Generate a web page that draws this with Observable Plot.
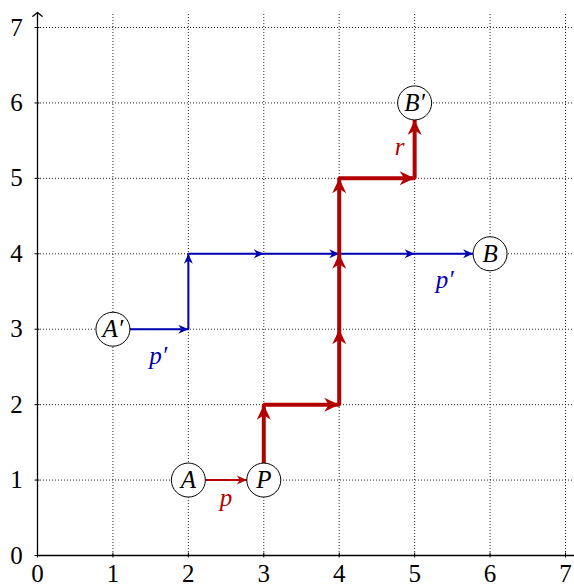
<!DOCTYPE html>
<html><head><meta charset="utf-8">
<script src="https://cdn.jsdelivr.net/npm/d3@7"></script>
<script src="https://cdn.jsdelivr.net/npm/@observablehq/plot@0.6"></script>
<style>
body{margin:0;background:#fff}
.serif text{font-family:"Liberation Serif", serif !important;}
</style>
</head><body><div id="chart"></div>
<script>
// ---- data ----
const xTicks = [0, 1, 2, 3, 4, 5, 6, 7];
const yTicks = [0, 1, 2, 3, 4, 5, 6, 7];
const gridX = [1, 2, 3, 4, 5, 6, 7];
const gridY = [1, 2, 3, 4, 5, 6, 7];
const axisEnd = [7.2];          // axes run a bit past 7
const gridEndX = [7.1];
const gridEndY = [7.2];

const nodes = [
  {x: 2, y: 1, label: "A"},
  {x: 3, y: 1, label: "P"},
  {x: 1, y: 3, label: "A′"},
  {x: 6, y: 4, label: "B"},
  {x: 5, y: 6, label: "B′"}
];

const redPath  = [[3, 1], [3, 2], [4, 2], [4, 5], [5, 5], [5, 6]];
const bluePath = [[1, 3], [2, 3], [2, 4], [6, 4]];
const pPath    = [[2, 1], [3, 1]];

// arrow heads: angle 0 = up, 90 = right
const redHeads = [
  {x: 3, y: 2, angle: 0}, {x: 4, y: 2, angle: 90}, {x: 4, y: 3, angle: 0},
  {x: 4, y: 4, angle: 0}, {x: 4, y: 5, angle: 0}, {x: 5, y: 5, angle: 90}
];
const redEdgeHeads = [{x: 5, y: 6, angle: 0}];
const blueHeads = [
  {x: 2, y: 3, angle: 90}, {x: 2, y: 4, angle: 0}, {x: 3, y: 4, angle: 90},
  {x: 4, y: 4, angle: 90}, {x: 5, y: 4, angle: 90}
];
const blueEdgeHeads = [{x: 6, y: 4, angle: 90}];
const pEdgeHeads = [{x: 3, y: 1, angle: 90}];

const redLabels  = [{x: 2.5, y: 0.76, text: "p"}, {x: 4.8, y: 5.41, text: "r"}];
const blueLabels = [{x: 1.6, y: 2.65, text: "p′"}, {x: 5.4, y: 3.65, text: "p′"}];

// ---- style ----
const RED = "#b30000", BLUE = "#0000b3";
const NODE_R = 17;
const serif = "Liberation Serif";

function stealth(L, hw, notch, offset) {
  return {
    draw(ctx) {
      const o = offset || 0;
      ctx.moveTo(0, o);
      ctx.lineTo(hw, o + L);
      ctx.lineTo(0, o + L - notch);
      ctx.lineTo(-hw, o + L);
      ctx.closePath();
    }
  };
}
const bigHead = stealth(15, 7, 4.5, 0);
const bigEdgeHead = stealth(15, 7, 4.5, NODE_R);
const smallHead = stealth(10, 4.5, 3, 0);
const smallEdgeHead = stealth(10, 4.5, 3, NODE_R);

const px = d => d[0], py = d => d[1];

const chart = Plot.plot({
  width: 574,
  height: 586,
  marginLeft: 37,
  marginRight: 9,
  marginTop: 27,
  marginBottom: 31,
  style: {background: "white"},
  className: "serif",
  x: {domain: [0, 7], axis: null},
  y: {domain: [0, 7], axis: null},
  marks: [
    // grid
    Plot.ruleX(gridX, {x: d => d, y1: 0, y2: gridEndY[0], stroke: "#000", strokeWidth: 1, strokeDasharray: "1,2", strokeOpacity: 0.85}),
    Plot.ruleY(gridY, {y: d => d, x1: 0, x2: gridEndX[0], stroke: "#000", strokeWidth: 1, strokeDasharray: "1,2", strokeOpacity: 0.85}),
    // axes
    Plot.arrow(axisEnd, {x1: 0, y1: 0, x2: 0, y2: d => d, stroke: "#000", strokeWidth: 1.3, headLength: 7, headAngle: 100}),
    Plot.arrow(axisEnd, {x1: 0, y1: 0, x2: d => d, y2: 0, stroke: "#000", strokeWidth: 1.3, headLength: 7, headAngle: 100}),
    Plot.ruleX(xTicks, {x: d => d, y1: 0, y2: 0, insetTop: -2.5, insetBottom: -2.5, stroke: "#000", strokeWidth: 1}),
    Plot.ruleY(yTicks, {y: d => d, x1: 0, x2: 0, insetLeft: -2.5, insetRight: -2.5, stroke: "#000", strokeWidth: 1}),
    Plot.text(xTicks, {x: d => d, y: 0, dy: 18, text: d => String(d), fontSize: 25, fontFamily: serif, fill: "#000"}),
    Plot.text(yTicks, {x: 0, y: d => d, dx: -21, text: d => String(d), fontSize: 25, fontFamily: serif, fill: "#000"}),
    // blue path
    Plot.line(bluePath, {x: px, y: py, stroke: BLUE, strokeWidth: 2, strokeLinejoin: "miter", strokeLinecap: "butt"}),
    Plot.dot(blueHeads, {x: "x", y: "y", rotate: "angle", symbol: smallHead, r: 5, fill: BLUE, stroke: null}),
    Plot.dot(blueEdgeHeads, {x: "x", y: "y", rotate: "angle", symbol: smallEdgeHead, r: 5, fill: BLUE, stroke: null}),
    // thin red p path
    Plot.line(pPath, {x: px, y: py, stroke: RED, strokeWidth: 2, strokeLinecap: "butt"}),
    Plot.dot(pEdgeHeads, {x: "x", y: "y", rotate: "angle", symbol: smallEdgeHead, r: 5, fill: RED, stroke: null}),
    // thick red path
    Plot.line(redPath, {x: px, y: py, stroke: RED, strokeWidth: 4, strokeLinejoin: "miter", strokeLinecap: "butt"}),
    Plot.dot(redHeads, {x: "x", y: "y", rotate: "angle", symbol: bigHead, r: 5, fill: RED, stroke: null}),
    Plot.dot(redEdgeHeads, {x: "x", y: "y", rotate: "angle", symbol: bigEdgeHead, r: 5, fill: RED, stroke: null}),
    // nodes
    Plot.dot(nodes, {x: "x", y: "y", r: NODE_R, fill: "white", stroke: "#000", strokeWidth: 1}),
    Plot.text(nodes, {x: "x", y: "y", text: "label", fontSize: 25, fontStyle: "italic", fontFamily: serif, fill: "#000"}),
    // edge labels
    Plot.text(redLabels, {x: "x", y: "y", text: "text", fontSize: 25, fontStyle: "italic", fontFamily: serif, fill: RED}),
    Plot.text(blueLabels, {x: "x", y: "y", text: "text", fontSize: 25, fontStyle: "italic", fontFamily: serif, fill: BLUE})
  ]
});
document.getElementById("chart").appendChild(chart);
</script>
</body></html>
